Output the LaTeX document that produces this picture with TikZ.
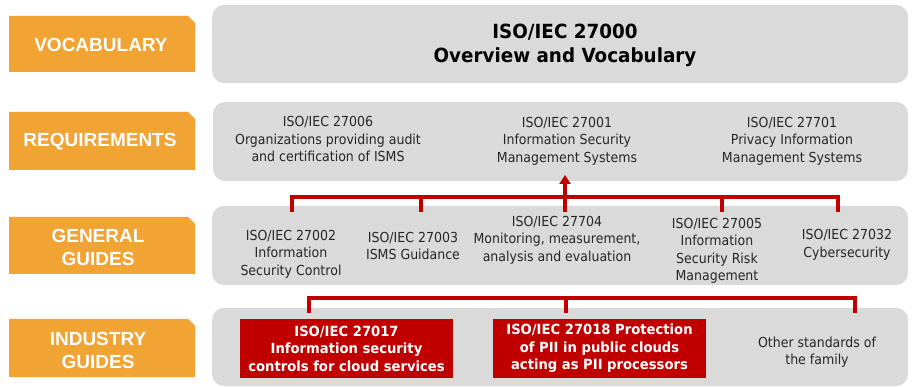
\documentclass[tikz,border=0pt]{standalone}
\usepackage{fontspec}
\usetikzlibrary{arrows.meta}
\newfontfamily\panelfont[FakeStretch=0.91]{DejaVu Sans}
\newfontfamily\panelbold[FakeStretch=0.94]{DejaVu Sans Bold}
\newfontfamily\labelfont{Liberation Sans}
\definecolor{tierorange}{RGB}{241,163,51}
\definecolor{panelgrey}{RGB}{218,218,218}
\definecolor{isored}{RGB}{192,0,0}
\tikzset{
  tier/.style={fill=tierorange,draw=none},
  tiertext/.style={text=white,align=center,font=\labelfont\bfseries\fontsize{19}{23}\selectfont,inner sep=0pt},
  panel/.style={fill=panelgrey,draw=none,rounded corners=12pt},
  std/.style={align=center,text=black!85,font=\panelfont\fontsize{13.8}{17.5}\selectfont,inner sep=0pt},
  stdtitle/.style={align=center,text=black,font=\panelbold\fontsize{19.5}{24}\selectfont,inner sep=0pt},
  redbox/.style={fill=isored,draw=none,minimum width=213pt,minimum height=59pt,inner sep=0pt,
    align=center,text=white,font=\panelbold\fontsize{14}{17.5}\selectfont},
  bus/.style={draw=isored,line width=4pt,line join=miter},
}
\begin{document}
\begin{tikzpicture}[x=1pt,y=-1pt]
\useasboundingbox (0,0) rectangle (913,387);

% tier labels (rectangles with a clipped top-right corner)
\foreach \ya/\yb in {16/72, 112/170, 217/274, 319/377}{
  \fill[tier] (9,\ya) -- (188,\ya) -- (195,\ya+7) -- (195,\yb) -- (9,\yb) -- cycle;
}
\node[tiertext] (tvoc) at (101,45) {VOCABULARY};
\node[tiertext] (treq) at (100,142) {REQUIREMENTS};
\node[tiertext] (tgen) at (98,247) {GENERAL\\GUIDES};
\node[tiertext] (tind) at (98,350) {INDUSTRY\\GUIDES};

% grey panels
\fill[panel] (212,5) rectangle (908,83);
\fill[panel] (213,102) rectangle (908,181);
\fill[panel] (212,206) rectangle (908,285);
\fill[panel] (212,308) rectangle (908,386);

% vocabulary
\node[stdtitle] (s27000) at (565,45) {ISO/IEC 27000\\Overview and Vocabulary};

% requirements
\node[std] (s27006) at (328,139) {ISO/IEC 27006\\Organizations providing audit\\and certification of ISMS};
\node[std] (s27001) at (567,141) {ISO/IEC 27001\\Information Security\\Management Systems};
\node[std] (s27701) at (792,141) {ISO/IEC 27701\\Privacy Information\\Management Systems};

% general guides
\node[std] (s27002) at (291,254) {ISO/IEC 27002\\Information\\Security Control};
\node[std] (s27003) at (413,246) {ISO/IEC 27003\\ISMS Guidance};
\node[std] (s27704) at (557,240) {ISO/IEC 27704\\Monitoring, measurement,\\analysis and evaluation};
\node[std] (s27005) at (717,251) {ISO/IEC 27005\\Information\\Security Risk\\Management};
\node[std] (s27032) at (847,245) {ISO/IEC 27032\\Cybersecurity};

% industry guides
\node[redbox] (s27017) at (346.5,348.5) {ISO/IEC 27017\\Information security\\controls for cloud services};
\node[redbox] (s27018) at (599.5,348.5) {ISO/IEC 27018 Protection\\of PII in public clouds\\acting as PII processors};
\node[std] (sother) at (817,352) {Other standards of\\the family};

% upper bus: general guides feed ISO/IEC 27001
\coordinate (ga) at (292,212);
\coordinate (gb) at (421,212);
\coordinate (gc) at (565,212);
\coordinate (gd) at (722,212);
\coordinate (ge) at (838,212);
\coordinate (gaT) at (292,197);
\coordinate (gbT) at (421,197);
\coordinate (gcT) at (565,197);
\coordinate (gdT) at (722,197);
\coordinate (geT) at (838,197);
\coordinate (rtip) at (565,175);
\draw[bus] (ga) -- (gaT) -- (geT) -- (ge);
\draw[bus] (gb) -- (gbT);
\draw[bus] (gc) -- (gcT);
\draw[bus] (gd) -- (gdT);
\draw[bus,-{Triangle[width=11pt,length=9pt]}] (gcT) -- (rtip);

% lower bus: industry guides
\coordinate (ia) at (309,313);
\coordinate (ib) at (566,313);
\coordinate (ic) at (855,313);
\coordinate (iaT) at (309,298);
\coordinate (ibT) at (566,298);
\coordinate (icT) at (855,298);
\draw[bus] (ia) -- (iaT) -- (icT) -- (ic);
\draw[bus] (ib) -- (ibT);
\end{tikzpicture}
\end{document}
